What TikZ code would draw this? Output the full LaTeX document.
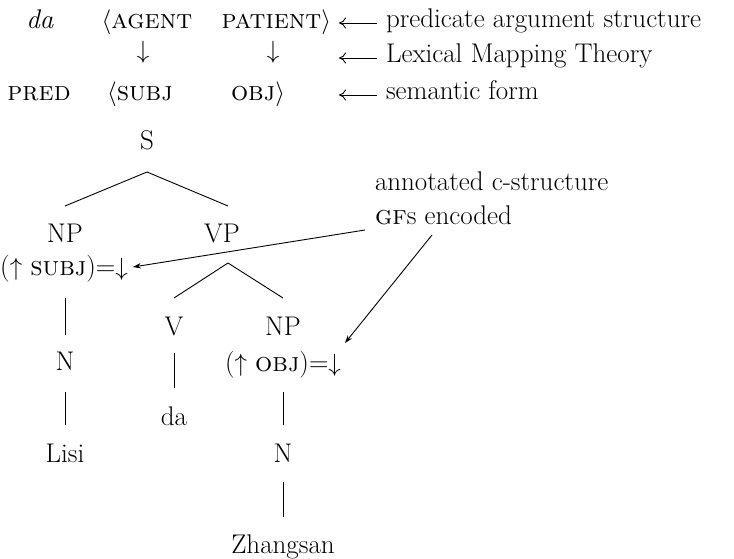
\documentclass[tikz,border=0pt]{standalone}
\usetikzlibrary{arrows.meta}
\begin{document}
\begin{tikzpicture}[x=1pt,y=-1pt,
  every node/.style={inner sep=0pt, outer sep=0pt, font=\fontsize{27}{32}\selectfont},
  txt/.style={anchor=base},
  tl/.style={line width=0.9pt},
  rowarrow/.style={line width=0.9pt, {Computer Modern Rightarrow[length=7pt,width=11pt]}-},
  annarrow/.style={line width=0.9pt, -{Stealth[length=8pt,width=5.5pt]}}]
\useasboundingbox (0,0) rectangle (734,559);
% top rows
\node[txt] (da0) at (40,29) {\textit{da}};
\node[txt] (agent) at (147,29) {$\langle$\textsc{agent}};
\node[txt, anchor=base east] (patient) at (331,29) {\textsc{patient}$\rangle$};
\node (d1) at (143,52) {$\downarrow$};
\node (d2) at (273,52) {$\downarrow$};
\node[txt] (pred) at (39,101) {\textsc{pred}};
\node[txt] (subj) at (140,101) {$\langle$\textsc{subj}};
\node[txt] (obj) at (258,101) {\textsc{obj}$\rangle$};
\node[anchor=base west] (lab1) at (386,28) {predicate argument structure};
\node[anchor=base west] (lab2) at (386,63) {Lexical Mapping Theory};
\node[anchor=base west] (lab3) at (386,100) {semantic form};
\coordinate (t1) at (339,23);
\coordinate (t2) at (339,58);
\coordinate (t3) at (339,95);
\draw[rowarrow] (t1) -- ([xshift=-9pt,yshift=5pt]lab1.base west);
\draw[rowarrow] (t2) -- ([xshift=-9pt,yshift=5pt]lab2.base west);
\draw[rowarrow] (t3) -- ([xshift=-9pt,yshift=5pt]lab3.base west);
% tree
\node[txt] (S) at (147,150) {S};
\node[txt] (NP1) at (65,242) {NP};
\node[txt] (subjann) at (64,275) {($\uparrow$ \textsc{subj})=$\downarrow$};
\node[txt] (VP) at (222,242) {VP};
\node[txt] (V) at (174,335) {V};
\node[txt] (NP2) at (283,335) {NP};
\node[txt] (objann) at (283,371) {($\uparrow$ \textsc{obj})=$\downarrow$};
\node[txt] (N1) at (65,370) {N};
\node[txt] (da) at (174,425) {da};
\node[txt] (Lisi) at (65,462) {Lisi};
\node[txt] (N2) at (283,462) {N};
\node[txt] (Zh) at (283,553) {Zhangsan};
\draw[tl] ([yshift=-22pt]S.base) -- ([yshift=36pt]NP1.base);
\draw[tl] ([yshift=-22pt]S.base) -- ([xshift=6pt,yshift=36pt]VP.base);
\draw[tl] ([xshift=6pt,yshift=-21pt]VP.base) -- ([yshift=37pt]V.base);
\draw[tl] ([xshift=6pt,yshift=-21pt]VP.base) -- ([yshift=37pt]NP2.base);
\draw[tl] ([xshift=1pt,yshift=-23pt]subjann.base) -- ([yshift=35pt]N1.base);
\draw[tl] ([yshift=-18pt]V.base) -- ([yshift=37pt]da.base);
\draw[tl] ([yshift=-22pt]N1.base) -- ([yshift=37pt]Lisi.base);
\draw[tl] ([yshift=-21pt]objann.base) -- ([yshift=37pt]N2.base);
\draw[tl] ([yshift=-20pt]N2.base) -- ([yshift=36pt]Zh.base);
% annotation
\node[anchor=base west] (ann1) at (375,191) {annotated c-structure};
\node[anchor=base west] (ann2) at (375,225) {\textsc{gf}s encoded};
\draw[annarrow] ([xshift=-10pt,yshift=-5pt]ann2.base west) -- ([xshift=69pt,yshift=8pt]subjann.base);
\draw[annarrow] ([xshift=57pt,yshift=-10pt]ann2.base west) -- ([xshift=62pt,yshift=28pt]objann.base);
\end{tikzpicture}
\end{document}
